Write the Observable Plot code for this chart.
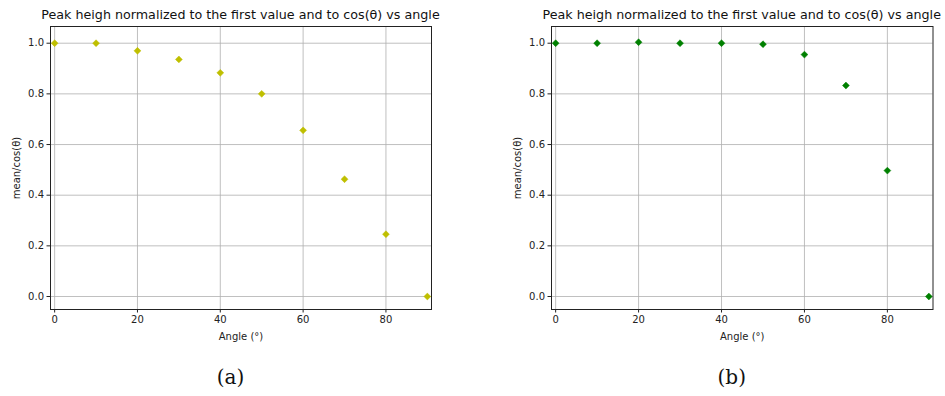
<!DOCTYPE html>
<html>
<head>
<meta charset="utf-8">
<script src="https://cdn.jsdelivr.net/npm/d3@7"></script>
<script src="https://cdn.jsdelivr.net/npm/@observablehq/plot@0.6"></script>
<style>
  html, body { margin: 0; padding: 0; background: white; }
  #root { position: relative; width: 945px; height: 396px; overflow: hidden; background: white; }
  .panel { position: absolute; top: 0; }
  .title { position: absolute; font-family: "DejaVu Sans", sans-serif; font-size: 12.7px; color: #111; white-space: nowrap; transform: translateX(-50%); top: 7px; }
  .caption { position: absolute; font-family: "DejaVu Serif", serif; font-size: 20px; color: #111; transform: translateX(-50%); top: 365px; }
</style>
</head>
<body>
<div id="root"></div>
<script>
const angles = [0, 10, 20, 30, 40, 50, 60, 70, 80, 90];
const valuesA = [1.0, 1.0, 0.970, 0.936, 0.883, 0.800, 0.656, 0.463, 0.246, 0.0];
const valuesB = [1.0, 1.0, 1.004, 1.0, 1.0, 0.996, 0.955, 0.833, 0.497, 0.0];
const xTicks = [0, 20, 40, 60, 80];
const yTicks = [0, 0.2, 0.4, 0.6, 0.8, 1.0];
const titleText = "Peak heigh normalized to the first value and to cos(θ) vs angle";
const xLabel = "Angle (°)";
const yLabel = "mean/cos(θ)";
const captions = ["(a)", "(b)"];
const colors = ["#bfbf00", "#008000"];

const root = document.getElementById("root");

function panel(values, color, left, width, marginRight) {
  const data = angles.map((a, i) => ({angle: a, value: values[i]}));
  const svg = Plot.plot({
    width, height: 345,
    marginLeft: 50, marginRight, marginTop: 26, marginBottom: 36,
    style: {fontFamily: "DejaVu Sans, sans-serif", fontSize: "10px", color: "#222", background: "white", overflow: "visible"},
    x: {domain: [-1, 91]},
    y: {domain: [-0.0513, 1.066]},
    marks: [
      Plot.gridX(xTicks, {stroke: "#b0b0b0", strokeOpacity: 1, strokeWidth: 0.8}),
      Plot.gridY(yTicks, {stroke: "#b0b0b0", strokeOpacity: 1, strokeWidth: 0.8}),
      Plot.axisX(xTicks, {tickSize: 3.5, tickPadding: 3, label: xLabel, labelArrow: "none", labelAnchor: "center", labelOffset: 30, stroke: "#222"}),
      Plot.axisY(yTicks, {tickSize: 3.5, tickPadding: 3, tickFormat: d3.format(".1f"), label: yLabel, labelArrow: "none", labelAnchor: "center", labelOffset: 38, stroke: "#222"}),
      Plot.dot(data, {x: "angle", y: "value", symbol: "diamond2", r: 3.1, fill: color, stroke: color, strokeWidth: 0.5}),
      Plot.frame({stroke: "#222", strokeWidth: 1})
    ]
  });
  const wrap = document.createElement("div");
  wrap.className = "panel";
  wrap.style.left = left + "px";
  wrap.appendChild(svg);
  root.appendChild(wrap);
  const frameCenter = left + 50 + (width - 50 - marginRight) / 2;
  return frameCenter;
}

const c1 = panel(valuesA, colors[0], 0, 470, 39);
const c2 = panel(valuesB, colors[1], 501, 444, 12.5);

[c1, c2].forEach((c, i) => {
  const t = document.createElement("div");
  t.className = "title"; t.style.left = c + "px"; t.textContent = titleText;
  root.appendChild(t);
  const cap = document.createElement("div");
  cap.className = "caption"; cap.style.left = (c - 10) + "px"; cap.textContent = captions[i];
  root.appendChild(cap);
});
</script>
</body>
</html>
